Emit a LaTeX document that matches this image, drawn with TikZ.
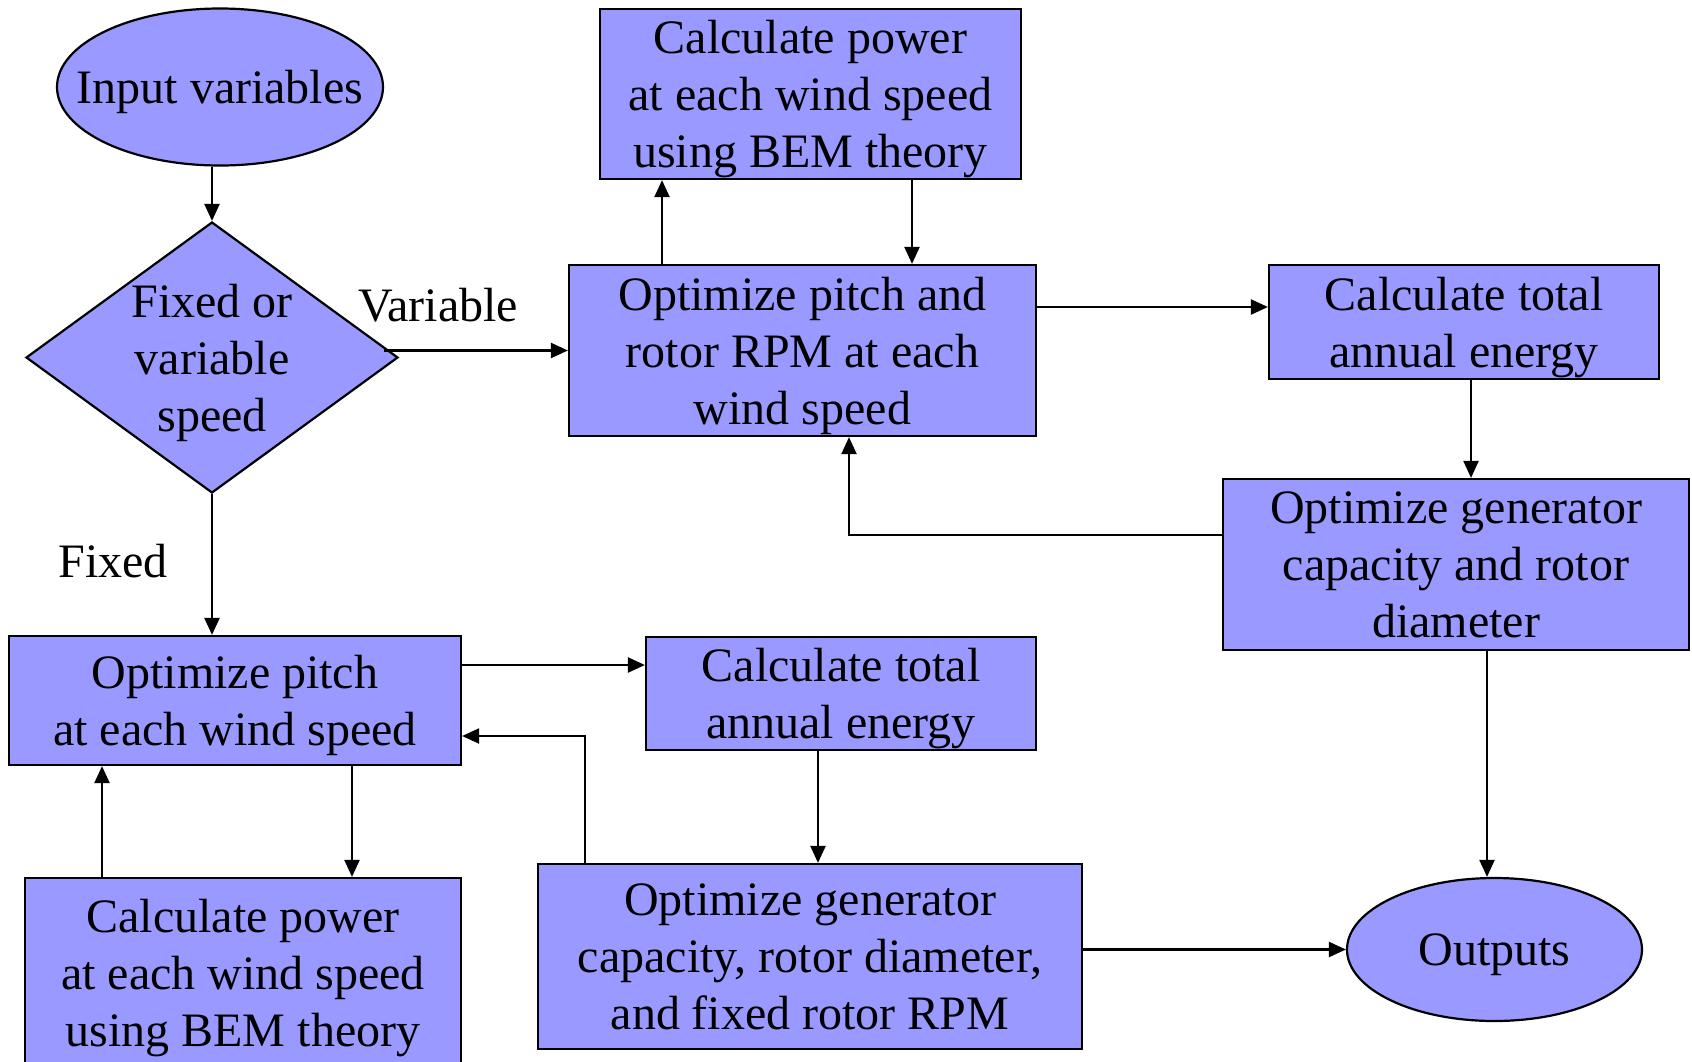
\documentclass[tikz,border=0pt]{standalone}
\usepackage{fontspec}
\setmainfont{Liberation Serif}
\usetikzlibrary{shapes.geometric,arrows.meta}
\definecolor{boxblue}{RGB}{153,153,255}
\begin{document}
\begin{tikzpicture}
    [x=1pt, y=-1pt, line width=2.2pt,
      every node/.style={font=\fontsize{48}{57}\selectfont, align=center, inner sep=0pt, text depth=0pt},
      box/.style={draw, fill=boxblue, rectangle},
      oval/.style={draw, fill=boxblue, ellipse},
      arr/.style={-{Triangle[length=17pt,width=15pt]}}]
    \clip (0,0) rectangle (1692,1061);
    % start and decision
    \node[oval, minimum width=326pt, minimum height=157pt] (inp) at (220,87) {};
    \node (inptext) at (inp) {Input variables};
    \node[draw, fill=boxblue, diamond, minimum width=372pt, minimum height=271pt] (dia) at (212,357.5) {};
    \node (diatext) at (dia) {Fixed or\\variable\\speed};
    % variable speed branch
    \node[box, minimum width=421pt, minimum height=170pt] (pw1) at (810.5,94) {Calculate power\\at each wind speed\\using BEM theory};
    \node[box, minimum width=467pt, minimum height=171pt] (rpm) at (802.5,350.5) {Optimize pitch and\\rotor RPM at each\\wind speed};
    \node[box, minimum width=390pt, minimum height=114pt] (en1) at (1464,322) {Calculate total\\annual energy};
    \node[box, minimum width=466pt, minimum height=171pt] (gen1) at (1456,564.5) {Optimize generator\\capacity and rotor\\diameter};
    % fixed speed branch
    \node[box, minimum width=452pt, minimum height=129pt] (pit) at (235,700.5) {Optimize pitch\\at each wind speed};
    \node[box, minimum width=390pt, minimum height=113pt] (en2) at (841,693.5) {Calculate total\\annual energy};
    \node[box, minimum width=436pt, minimum height=190pt] (pw2) at (243,973) {Calculate power\\at each wind speed\\using BEM theory};
    \node[box, minimum width=544pt, minimum height=185pt] (gen2) at (810,956.5) {Optimize generator\\capacity, rotor diameter,\\and fixed rotor RPM};
    \node[oval, minimum width=295pt, minimum height=143pt] (out) at (1494.5,949.5) {};
    \node (outtext) at (out) {Outputs};
    % labels
    \node (lvar) at (438,305) {Variable};
    \node (lfix) at (113,561) {Fixed};
    % connectors
    \draw[arr] (inp.south -| dia.north) -- (dia.north);
    \draw[arr] ([xshift=-15pt]dia.east |- rpm.west) -- (rpm.west);
    \draw[arr] (662,0 |- rpm.north) -- (662,0 |- pw1.south);
    \draw[arr] (912,0 |- pw1.south) -- (912,0 |- rpm.north);
    \draw[arr] (rpm.east |- 0,307) -- (en1.west |- 0,307);
    \draw[arr] (1471,0 |- en1.south) -- (1471,0 |- gen1.north);
    \draw[arr] (gen1.west |- 0,535) -| (849,0 |- rpm.south);
    \draw[arr] (1487,0 |- gen1.south) -- (1487,0 |- out.north);
    \draw[arr] (dia.south) -- (dia.south |- pit.north);
    \draw[arr] (pit.east |- 0,665) -- (en2.west |- 0,665);
    \draw[arr] (818,0 |- en2.south) -- (818,0 |- gen2.north);
    \draw[arr] (585,0 |- gen2.north) |- (pit.east |- 0,736);
    \draw[arr] (352,0 |- pit.south) -- (352,0 |- pw2.north);
    \draw[arr] (102,0 |- pw2.north) -- (102,0 |- pit.south);
    \draw[arr] (gen2.east |- out.west) -- (out.west);
\end{tikzpicture}
\end{document}
